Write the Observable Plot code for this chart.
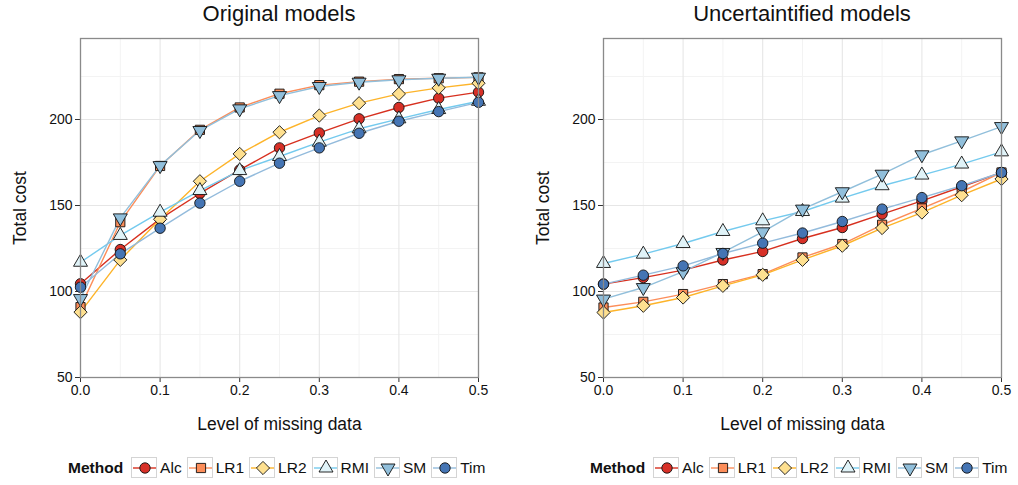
<!DOCTYPE html>
<html>
<head>
<meta charset="utf-8">
<script src="https://cdn.jsdelivr.net/npm/d3@7"></script>
<script src="https://cdn.jsdelivr.net/npm/@observablehq/plot@0.6"></script>
<style>
  html, body { margin: 0; padding: 0; background: #fff; }
  body { width: 1018px; height: 485px; overflow: hidden; font-family: "Liberation Sans", Arial, Helvetica, sans-serif; }
  #wrap { position: relative; width: 1018px; height: 485px; }
  .title { position: absolute; top: 1px; font-size: 22px; color: #111; white-space: nowrap; transform: translateX(-50%); }
  .panel { position: absolute; top: 30px; }
  .legend { position: absolute; top: 457px; display: flex; align-items: center; font-size: 15.5px; color: #111; white-space: nowrap; }
  .legend .lt { font-weight: bold; margin-right: 8px; }
  .legend .key { width: 26px; height: 21px; box-sizing: border-box; border: 1.3px solid #d4d4d4; margin-right: 3px; }
  .legend .lab { margin-right: 5px; }
</style>
</head>
<body>
<div id="wrap"></div>
<script>
// ---- data ----
const levels = [0, 0.05, 0.1, 0.15, 0.2, 0.25, 0.3, 0.35, 0.4, 0.45, 0.5];
const methods = ["Alc", "LR1", "LR2", "RMI", "SM", "Tim"];

const origAlc = [104.5, 124.4, 142.2, 157.0, 170.7, 183.5, 192.2, 200.4, 207.0, 212.4, 215.9];
const origLR1 = [90.9, 140.3, 173.0, 194.0, 207.0, 215.0, 220.0, 222.0, 223.5, 224.0, 224.5];
const origLR2 = [88.0, 118.4, 142.0, 164.1, 180.0, 192.6, 202.3, 209.5, 214.9, 218.4, 221.1];
const origRMI = [117.0, 132.6, 146.1, 158.7, 170.3, 178.5, 186.8, 194.6, 200.4, 205.8, 210.6];
const origSM  = [95.9, 142.8, 173.2, 193.6, 206.2, 213.9, 219.2, 221.7, 223.1, 224.0, 224.6];
const origTim = [102.5, 121.9, 136.8, 151.4, 164.1, 174.6, 183.5, 192.0, 199.0, 204.6, 210.0];

const uncAlc = [104.3, 108.1, 112.4, 118.3, 123.3, 130.8, 137.2, 145.0, 152.7, 160.9, 169.2];
const uncLR1 = [90.7, 94.0, 98.5, 104.3, 110.1, 119.8, 127.6, 138.8, 148.3, 158.0, 169.2];
const uncLR2 = [87.8, 91.7, 96.5, 103.3, 109.7, 118.4, 126.6, 136.9, 145.9, 156.0, 165.4];
const uncRMI = [116.3, 121.7, 127.9, 134.9, 141.1, 146.5, 154.3, 161.5, 167.7, 174.1, 181.2];
const uncSM  = [95.6, 102.3, 111.5, 122.7, 134.7, 147.9, 158.0, 168.2, 179.5, 187.6, 195.9];
const uncTim = [104.3, 109.5, 114.9, 122.1, 128.1, 134.0, 140.7, 147.9, 154.6, 161.5, 169.2];

const xTicks = [0, 0.1, 0.2, 0.3, 0.4, 0.5];
const xMinor = [0.05, 0.15, 0.25, 0.35, 0.45];
const yTicks = [50, 100, 150, 200];
const yMinor = [75, 125, 175, 225];

const titles = ["Original models", "Uncertaintified models"];

// ---- styles ----
const fills = {Alc: "#d73027", LR1: "#fc8d59", LR2: "#fee090", RMI: "#e0f3f8", SM: "#91bfdb", Tim: "#4575b4"};
const lineCols = {Alc: "#d7301f", LR1: "#fc8d59", LR2: "#fdb42a", RMI: "#74caee", SM: "#91bfdb", Tim: "#93bbdc"};

const syms = {
  Alc: {draw(c) { c.moveTo(5.2, 0); c.arc(0, 0, 5.2, 0, 2 * Math.PI); }},
  LR1: {draw(c) { c.rect(-4.6, -4.6, 9.2, 9.2); }},
  LR2: {draw(c) { const s = 6.6; c.moveTo(0, -s); c.lineTo(s, 0); c.lineTo(0, s); c.lineTo(-s, 0); c.closePath(); }},
  RMI: {draw(c) { const w = 7, h = 12; c.moveTo(0, -h * 2 / 3); c.lineTo(w, h / 3); c.lineTo(-w, h / 3); c.closePath(); }},
  SM:  {draw(c) { const w = 7, h = 12; c.moveTo(0, h * 2 / 3); c.lineTo(w, -h / 3); c.lineTo(-w, -h / 3); c.closePath(); }},
  Tim: {draw(c) { c.moveTo(5.2, 0); c.arc(0, 0, 5.2, 0, 2 * Math.PI); }}
};

function table(series) {
  const rows = [];
  methods.forEach((m, i) => series[i].forEach((v, j) => rows.push({Method: m, level: levels[j], cost: v})));
  return rows;
}

const panels = [
  table([origAlc, origLR1, origLR2, origRMI, origSM, origTim]),
  table([uncAlc, uncLR1, uncLR2, uncRMI, uncSM, uncTim])
];

const wrap = document.getElementById("wrap");
const panelLeft = [0, 509];
const mLeft = [80, 94];
const mRight = [31, 17];

panels.forEach((rows, p) => {
  const marks = [
    Plot.ruleY(yMinor, {stroke: "#f3f3f3", strokeWidth: 1}),
    Plot.ruleX(xMinor, {stroke: "#f3f3f3", strokeWidth: 1}),
    Plot.ruleY(yTicks, {stroke: "#e6e6e6", strokeWidth: 1.1}),
    Plot.ruleX(xTicks, {stroke: "#e6e6e6", strokeWidth: 1.1}),
    Plot.axisX({ticks: xTicks, tickFormat: d3.format(".1f"), tickSize: 5, tickPadding: 3, fontSize: 14, stroke: "#333",
      label: "Level of missing data", labelAnchor: "center", labelArrow: "none", labelOffset: 52}),
    Plot.axisY({ticks: yTicks, tickSize: 5, tickPadding: 3, fontSize: 14, stroke: "#333",
      label: "Total cost", labelAnchor: "center", labelArrow: "none", labelOffset: 67})
  ];
  methods.forEach(m => {
    marks.push(Plot.line(rows.filter(d => d.Method === m), {x: "level", y: "cost", stroke: lineCols[m], strokeWidth: 1.4}));
  });
  methods.forEach(m => {
    marks.push(Plot.dot(rows.filter(d => d.Method === m), {x: "level", y: "cost", symbol: syms[m], r: 5, fill: fills[m], stroke: "#111", strokeWidth: 0.9}));
  });
  marks.push(Plot.frame({stroke: "#8a8a8a", strokeWidth: 1.3}));

  const chart = Plot.plot({
    width: 509,
    height: 410,
    marginTop: 8,
    marginBottom: 63,
    marginLeft: mLeft[p],
    marginRight: mRight[p],
    style: {fontFamily: "'Liberation Sans', Arial, sans-serif", fontSize: "14px", color: "#111", background: "transparent"},
    x: {domain: [0, 0.5]},
    y: {domain: [50, 247.1]},
    marks
  });
  d3.select(chart).selectAll("[aria-label='x-axis label'] text, [aria-label='y-axis label'] text")
    .style("font-size", "17.5px").attr("fill", "#111");
  const div = document.createElement("div");
  div.className = "panel";
  div.style.left = panelLeft[p] + "px";
  div.appendChild(chart);
  wrap.appendChild(div);

  // title
  const t = document.createElement("div");
  t.className = "title";
  t.textContent = titles[p];
  t.style.left = (panelLeft[p] + mLeft[p] + (509 - mLeft[p] - mRight[p]) / 2) + "px";
  wrap.appendChild(t);

  // legend
  const lg = document.createElement("div");
  lg.className = "legend";
  lg.style.left = (p === 0 ? 68 : 590) + "px";
  const lt = document.createElement("span");
  lt.className = "lt";
  lt.textContent = "Method";
  lg.appendChild(lt);
  methods.forEach(m => {
    const k = d3.create("svg").attr("class", "key").attr("width", 26).attr("height", 21);
    k.append("line").attr("x1", 1).attr("x2", 25).attr("y1", 10).attr("y2", 10).attr("stroke", lineCols[m]).attr("stroke-width", 1.4);
    k.append("path").attr("transform", "translate(13,10)").attr("d", d3.symbol(syms[m])()).attr("fill", fills[m]).attr("stroke", "#111").attr("stroke-width", 0.9);
    lg.appendChild(k.node());
    const lab = document.createElement("span");
    lab.className = "lab";
    lab.textContent = m;
    lg.appendChild(lab);
  });
  wrap.appendChild(lg);
});
</script>
</body>
</html>
